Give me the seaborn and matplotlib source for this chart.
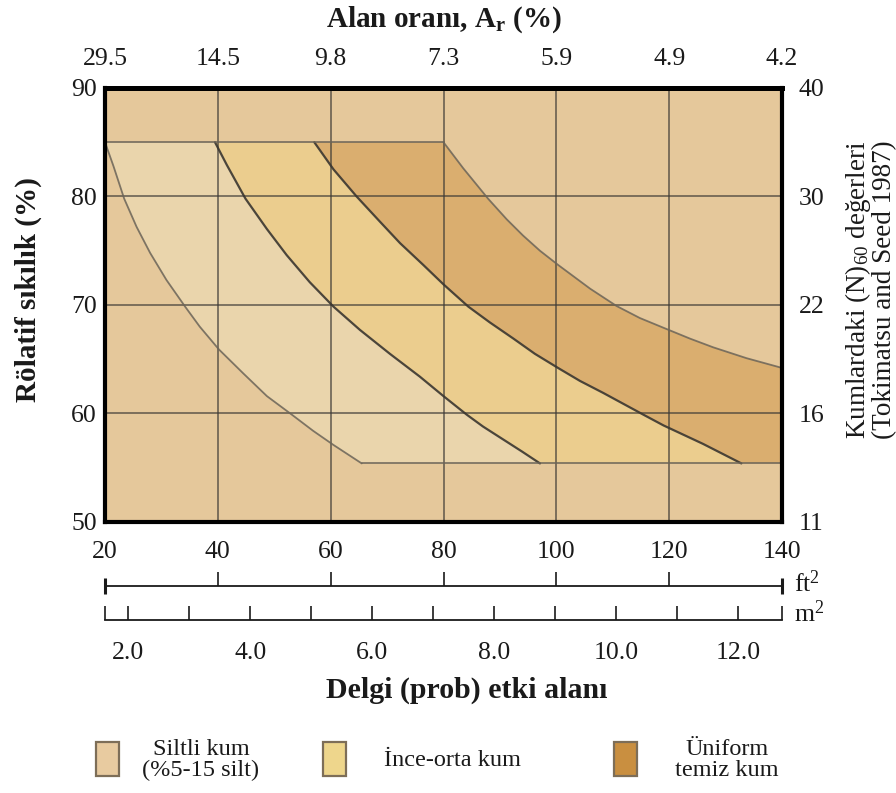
import numpy as np
import matplotlib
matplotlib.use("Agg")
import matplotlib.pyplot as plt
import seaborn as sns
from matplotlib.patches import Rectangle

# ---------------- data ----------------
area_ft2_ticks = [20, 40, 60, 80, 100, 120, 140]
area_ratio_labels = ["29.5", "14.5", "9.8", "7.3", "5.9", "4.9", "4.2"]
rel_density_ticks = [50, 60, 70, 80, 90]
n60_labels = ["11", "16", "22", "30", "40"]
area_m2_ticks = [2, 3, 4, 5, 6, 7, 8, 9, 10, 11, 12]
area_m2_labels = ["2.0", "", "4.0", "", "6.0", "", "8.0", "", "10.0", "", "12.0"]
m2_range = [1.616, 12.726]

top_y = 85.0
bottom_y = 55.4

# boundary curves (ft2, relative density %)
c1_x = [20.0, 21.5, 23.4, 25.6, 28.0, 30.9, 34.2, 36.8, 40.2, 44.5, 48.7, 53.1, 56.9, 60.5, 65.5]
c1_y = [85.0, 82.8, 79.8, 77.2, 74.8, 72.3, 69.85, 68.0, 65.9, 63.7, 61.6, 59.9, 58.4, 57.1, 55.4]
c2_x = [39.5, 41.6, 44.9, 48.7, 52.2, 56.3, 60.5, 65.2, 70.5, 75.8, 80.0, 84.1, 87.0, 90.6, 93.9, 97.1]
c2_y = [85.0, 82.9, 79.8, 77.0, 74.6, 72.1, 69.85, 67.7, 65.5, 63.4, 61.6, 59.9, 58.8, 57.6, 56.5, 55.4]
c3_x = [57.1, 60.5, 64.6, 68.7, 72.3, 76.4, 80.0, 84.4, 88.2, 92.4, 96.2, 100.3, 104.2, 108.3, 115.4, 119.0, 126.0, 132.8]
c3_y = [85.0, 82.5, 80.0, 77.7, 75.7, 73.7, 71.9, 69.85, 68.4, 66.9, 65.5, 64.2, 63.0, 61.9, 59.9, 58.9, 57.2, 55.4]
c4_x = [80.0, 83.5, 87.9, 91.2, 94.1, 97.1, 100.3, 106.0, 110.7, 114.8, 119.0, 123.7, 127.8, 133.7, 140.0]
c4_y = [85.0, 82.6, 79.8, 77.9, 76.4, 75.0, 73.7, 71.5, 69.9, 68.8, 67.9, 66.9, 66.1, 65.1, 64.2]

top_line_x = [20, 80]
bottom_line_x = [65.5, 140]

legend_labels = ["Siltli kum\n(%5-15 silt)", "İnce-orta kum", "Üniform\ntemiz kum"]

# ---------------- style ----------------
sns.set_style("white")
plt.rcParams["font.family"] = ["Liberation Serif", "DejaVu Serif"]
plt.rcParams["mathtext.fontset"] = "custom"
plt.rcParams["mathtext.rm"] = "Liberation Serif"
plt.rcParams["mathtext.it"] = "Liberation Serif:italic"
plt.rcParams["mathtext.bf"] = "Liberation Serif:bold"

W, H = 896, 793
fig = plt.figure(figsize=(W / 100, H / 100), dpi=100)
fig.patch.set_facecolor("white")

def fx(px):
    return px / W

def fy(py):
    return 1 - py / H

bg_col = "#E5C89B"
silt_col = "#EAD5AC"
ince_col = "#EBCD8E"
unif_col = "#DAAE6F"

ax = fig.add_axes([fx(105), fy(522), fx(782) - fx(105), fy(88) - fy(522)])
ax.set_facecolor(bg_col)
ax.set_xlim(20, 140)
ax.set_ylim(50, 90)

# fills
silt_px = c1_x + c2_x[::-1]
silt_py = c1_y + c2_y[::-1]
ince_px = c2_x + c3_x[::-1]
ince_py = c2_y + c3_y[::-1]
unif_px = c3_x + [140] + c4_x[::-1]
unif_py = c3_y + [bottom_y] + c4_y[::-1]
ax.fill(silt_px, silt_py, color=silt_col, lw=0, zorder=1)
ax.fill(ince_px, ince_py, color=ince_col, lw=0, zorder=1)
ax.fill(unif_px, unif_py, color=unif_col, lw=0, zorder=1)

# boundary lines
light_line = dict(color="#6b6458", lw=1.3, alpha=0.85)
dark_line = dict(color="#3a3630", lw=1.6, alpha=0.9)
sns.lineplot(x=c1_x, y=c1_y, ax=ax, sort=False, estimator=None, **light_line)
sns.lineplot(x=c2_x, y=c2_y, ax=ax, sort=False, estimator=None, **dark_line)
sns.lineplot(x=c3_x, y=c3_y, ax=ax, sort=False, estimator=None, **dark_line)
sns.lineplot(x=c4_x, y=c4_y, ax=ax, sort=False, estimator=None, **light_line)
sns.lineplot(x=top_line_x, y=[top_y, top_y], ax=ax, sort=False, estimator=None, **light_line)
sns.lineplot(x=bottom_line_x, y=[bottom_y, bottom_y], ax=ax, sort=False, estimator=None, **light_line)

# grid
ax.set_xticks(area_ft2_ticks)
ax.set_yticks(rel_density_ticks)
ax.grid(True, color="#3c3a36", lw=1.1, alpha=0.8)
ax.set_axisbelow("line")
for s in ax.spines.values():
    s.set_color("black")
    s.set_linewidth(3)
ax.spines["top"].set_linewidth(3.6)

tick_fs = 18.5
ax.tick_params(axis="x", length=0, pad=14, labelsize=tick_fs, colors="#1a1a1a")
ax.tick_params(axis="y", length=0, pad=6, labelsize=tick_fs, colors="#1a1a1a")
ax.set_xticklabels([str(v) for v in area_ft2_ticks])
ax.set_yticklabels([str(v) for v in rel_density_ticks])

ax_r = ax.twinx()
ax_r.set_ylim(50, 90)
ax_r.set_yticks(rel_density_ticks)
ax_r.set_yticklabels(n60_labels)
ax_r.tick_params(axis="y", length=0, pad=12, labelsize=tick_fs, colors="#1a1a1a")
ax_r.grid(False)
for s in ax_r.spines.values():
    s.set_visible(False)

ax_t = ax.twiny()
ax_t.set_xlim(20, 140)
ax_t.set_xticks(area_ft2_ticks)
ax_t.set_xticklabels(area_ratio_labels)
ax_t.tick_params(axis="x", length=0, pad=13, labelsize=tick_fs, colors="#1a1a1a")
ax_t.grid(False)
for s in ax_t.spines.values():
    s.set_visible(False)

# ft2 scale
ax_ft = fig.add_axes([fx(105), fy(586), fx(782) - fx(105), 0.02])
ax_ft.set_facecolor("none")
ax_ft.set_xlim(20, 140)
ax_ft.set_yticks([])
for k in ["top", "left", "right"]:
    ax_ft.spines[k].set_visible(False)
ax_ft.spines["bottom"].set_color("#1a1a1a")
ax_ft.spines["bottom"].set_linewidth(1.3)
ax_ft.set_xticks(area_ft2_ticks[1:-1])
ax_ft.set_xticklabels([])
ax_ft.set_xticks([area_ft2_ticks[0], area_ft2_ticks[-1]], minor=True)
ax_ft.tick_params(axis="x", which="major", bottom=True, direction="in", length=10, width=1.2, color="#1a1a1a")
ax_ft.tick_params(axis="x", which="minor", bottom=True, direction="inout", length=11, width=2.2, color="#1a1a1a")

# m2 scale
ax_m = fig.add_axes([fx(105), fy(620), fx(782) - fx(105), 0.02])
ax_m.set_facecolor("none")
ax_m.set_xlim(m2_range)
ax_m.set_yticks([])
for k in ["top", "left", "right"]:
    ax_m.spines[k].set_visible(False)
ax_m.spines["bottom"].set_color("#1a1a1a")
ax_m.spines["bottom"].set_linewidth(1.3)
ax_m.set_xticks(area_m2_ticks)
ax_m.set_xticklabels(area_m2_labels)
ax_m.set_xticks(m2_range, minor=True)
ax_m.tick_params(axis="x", which="both", bottom=True, direction="in", length=10, width=1.2,
                 color="#1a1a1a", pad=16, labelsize=tick_fs, labelcolor="#1a1a1a")

fig.text(fx(794), fy(584), "ft$^{\\mathregular{2}}$", fontsize=tick_fs, va="center", ha="left", color="#1a1a1a")
fig.text(fx(794), fy(614), "m$^{\\mathregular{2}}$", fontsize=tick_fs, va="center", ha="left", color="#1a1a1a")

# axis titles
fig.text(fx(444), fy(20), "Alan oranı, A$_{\\mathregular{r}}$ (%)", fontsize=21, fontweight="bold",
         ha="center", va="center", color="#1a1a1a")
fig.text(fx(28), fy(290), "Rölatif sıkılık (%)", fontsize=21, fontweight="bold",
         rotation=90, ha="center", va="center", color="#1a1a1a")
fig.text(fx(467), fy(690), "Delgi (prob) etki alanı", fontsize=21.5, fontweight="bold",
         ha="center", va="center", color="#1a1a1a")
fig.text(fx(870), fy(290), "Kumlardaki (N)$_{\\mathregular{60}}$ değerleri\n(Tokimatsu and Seed 1987)",
         fontsize=19.5, rotation=90, ha="center", va="center", multialignment="center",
         linespacing=0.92, color="#1a1a1a")

# legend
leg_cols = ["#E8CBA0", "#EED68C", "#C98F40"]
leg_patch_x = [96, 323, 614]
leg_text_x = [201, 452, 727]
for lab, col, px, tx in zip(legend_labels, leg_cols, leg_patch_x, leg_text_x):
    fig.add_artist(Rectangle((fx(px), fy(776)), fx(px + 23) - fx(px), fy(742) - fy(776),
                             transform=fig.transFigure, facecolor=col, edgecolor="#7d6e58", lw=1.6))
    fig.text(fx(tx), fy(760), lab, fontsize=17.5, ha="center", va="center",
             multialignment="center", linespacing=1.05, color="#1a1a1a")

fig.savefig("out.png", dpi=100, facecolor="white")
